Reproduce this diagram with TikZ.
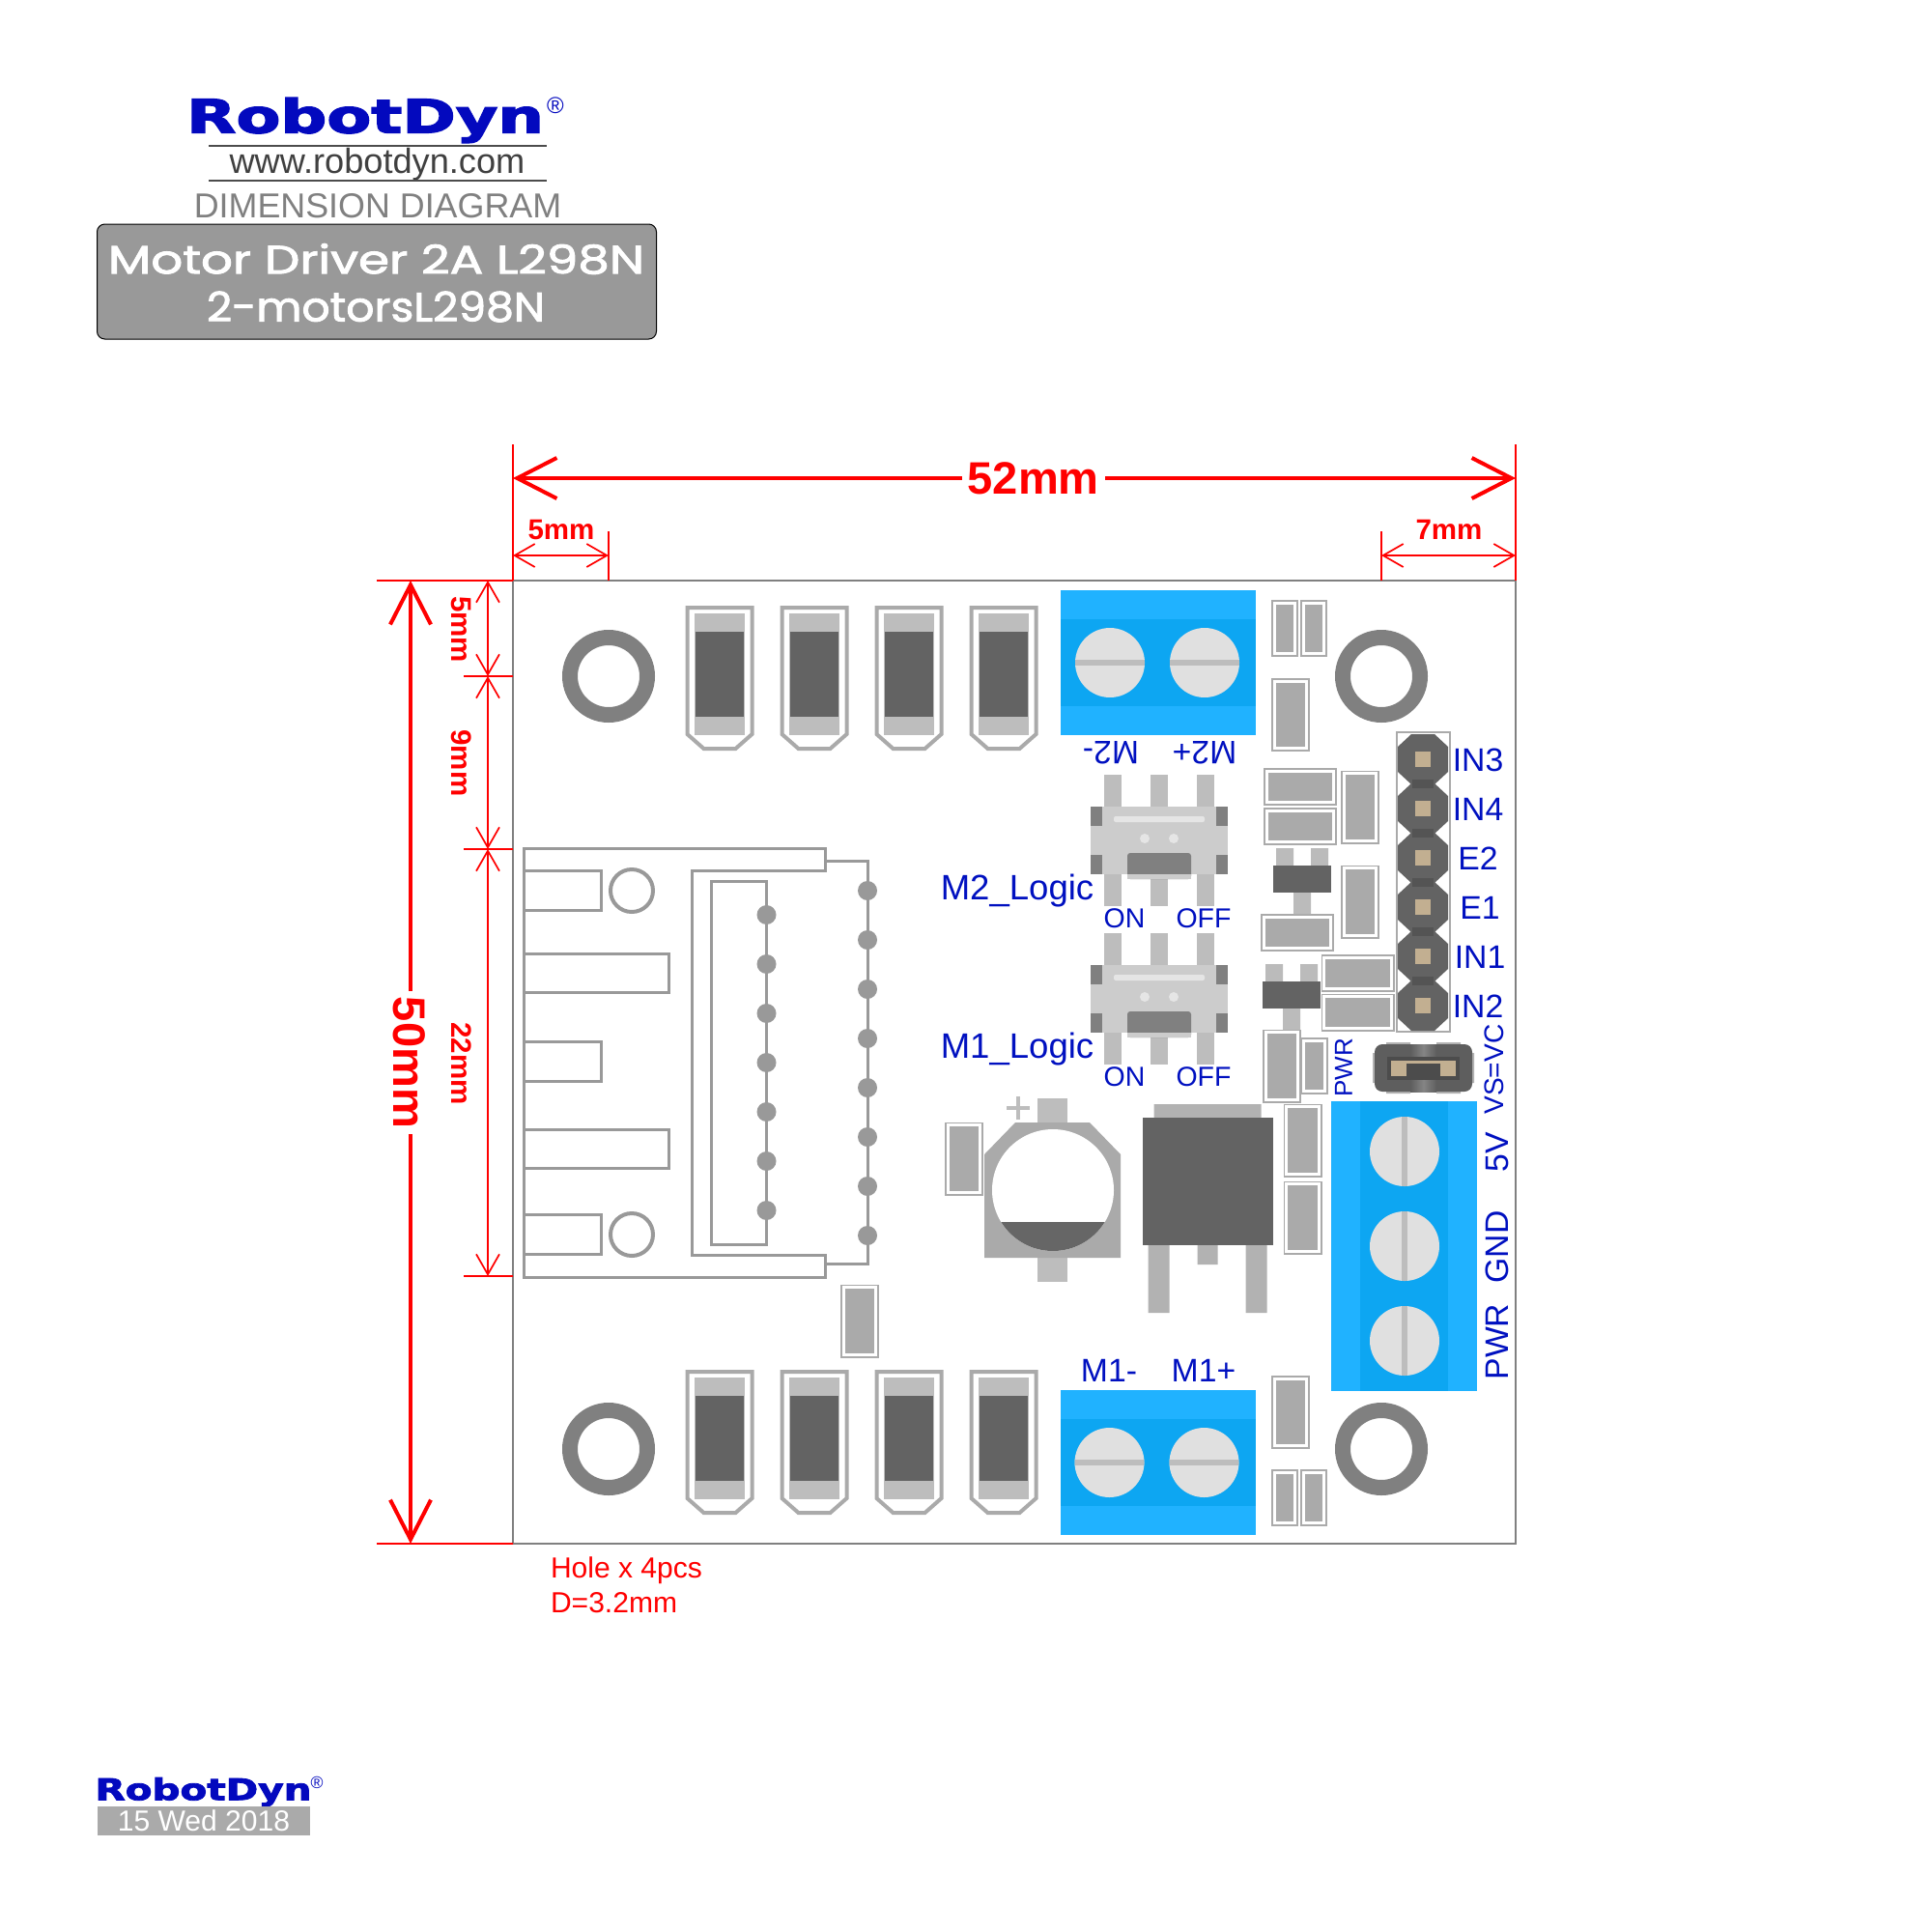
\documentclass[tikz,border=0pt]{standalone}
\usepackage{fontspec}
\usepackage{graphicx}
\setmainfont{Liberation Sans}
\newfontfamily\logofont[FakeBold=2.5]{DejaVu Sans Bold}
\newfontfamily\titlefont[FakeBold=2]{Poppins}
\usetikzlibrary{arrows.meta}
\definecolor{logoblue}{HTML}{0309BE}
\definecolor{lblblue}{HTML}{0010C0}
\definecolor{termlight}{HTML}{20B2FF}
\definecolor{termdark}{HTML}{0DA6F2}
\definecolor{smdgray}{HTML}{AAAAAA}
\definecolor{leadgray}{HTML}{BDBDBD}
\definecolor{bodydark}{HTML}{636363}
\definecolor{wiregray}{HTML}{999999}
\definecolor{tan}{HTML}{C2AF91}
\begin{document}
\begin{tikzpicture}[
  every node/.style={inner sep=0pt, outer sep=0pt},
  board/.style={draw=black!50, line width=.2mm, anchor=north west},
  lbl/.style={text=lblblue, font=\fontsize{9.6}{11}\selectfont},
  lblbig/.style={text=lblblue, font=\fontsize{10.4}{12}\selectfont},
  lblsm/.style={text=lblblue, font=\fontsize{8.1}{10}\selectfont},
  dimbig/.style={red, line width=.4mm, {Straight Barb[length=4.1mm,width=4.2mm]}-{Straight Barb[length=4.1mm,width=4.2mm]}},
  dimsm/.style={red, line width=.17mm, {Straight Barb[length=2.1mm,width=2.4mm]}-{Straight Barb[length=2.1mm,width=2.4mm]}},
  dimext/.style={red, line width=.17mm},
  dimtxt/.style={text=red, font=\bfseries\fontsize{8.4}{10}\selectfont},
  dimtxtbig/.style={text=red, fill=white, inner xsep=.6mm, font=\bfseries\fontsize{13.4}{15}\selectfont},
  smd/.style={draw=smdgray, fill=smdgray, line width=.16mm, double=white, double distance=.3mm},
  rtall/.style={smd, minimum width=.338cm, minimum height=.698cm},
  rwide/.style={smd, minimum width=.698cm, minimum height=.328cm},
  rsmall/.style={smd, minimum width=.218cm, minimum height=.528cm},
  wire/.style={draw=wiregray, line width=.3mm},
  diode/.pic={
    \draw[smdgray, line width=.4mm] (-.335,.73) -- (.335,.73) -- (.335,-.58) -- (.165,-.73) -- (-.165,-.73) -- (-.335,-.58) -- cycle;
    \fill[leadgray] (-.26,.67) rectangle (.26,-.59);
    \fill[bodydark] (-.25,.48) rectangle (.25,-.40);
  },
  screw/.pic={
    \fill[black!12] (0,0) circle (.36);
    \begin{scope}
      \clip (0,0) circle (.36);
      \fill[leadgray] (-.4,-.03) rectangle (.4,.03);
    \end{scope}
  },
  terminal/.pic={
    \fill[termlight] (-1.01,.75) rectangle (1.01,-.75);
    \fill[termdark] (-1.01,.45) rectangle (1.01,-.45);
    \pic at (-.5,0) {screw};
    \pic at (.48,0) {screw};
  },
  switch/.pic={
    \foreach \x in {-.48,0,.48} {\fill[leadgray] (\x-.09,.68) rectangle (\x+.09,-.68);}
    \fill[black!20] (-.71,.35) rectangle (.71,-.35);
    \foreach \x in {-.71,.59} {
      \fill[black!50] (\x,.35) rectangle (\x+.12,.15);
      \fill[black!50] (\x,-.15) rectangle (\x+.12,-.35);
    }
    \fill[black!10, rounded corners=.2mm] (-.47,.25) rectangle (.47,.19);
    \fill[black!10] (-.15,.02) circle (.05) (.15,.02) circle (.05);
    \fill[black!50, rounded corners=.3mm] (-.33,-.13) rectangle (.33,-.40);
    \fill[black!20] (-.33,-.35) rectangle (.33,-.40);
  }
]
\useasboundingbox (0,0) rectangle (20,-20);
% logo block
\node[anchor=north west, text=logoblue] (logo) at (1.93,-1.01) {\resizebox*{3.70cm}{.47cm}{\logofont RobotDyn}};
\node[text=logoblue, font=\fontsize{6.8}{8}\selectfont] (logoreg) at (5.75,-1.09) {\textregistered};
\node[text=black!75, font=\fontsize{10.3}{12}\selectfont] (site) at (3.905,-1.70) {www.robotdyn.com};
\draw[black!70, line width=.2mm] (2.16,-1.51) -- (5.66,-1.51) (2.16,-1.87) -- (5.66,-1.87);
\node[text=black!50, font=\fontsize{10.2}{12}\selectfont] (kind) at (3.91,-2.13) {DIMENSION DIAGRAM};
\node[draw=black, fill=wiregray, line width=.1mm, rounded corners=.8mm, minimum width=5.79cm, minimum height=1.19cm, anchor=north west] (title) at (1.005,-2.32) {};
\node[text=white, anchor=center] (title1) at (3.895,-2.68) {\resizebox*{5.55cm}{.32cm}{\titlefont Motor Driver 2A L298N}};
\node[text=white, anchor=center] (title2) at (3.89,-3.175) {\resizebox*{3.5cm}{.32cm}{\titlefont 2-motorsL298N}};
% board
\node[board, minimum width=10.38cm, minimum height=9.97cm] (board) at (5.31,-6.01) {};
\foreach \x/\y in {6.3/-7,14.3/-7,6.3/-15,14.3/-15} {\draw[black!50, line width=.16cm] (\x,\y) circle (.4);}
\foreach \x in {7.45,8.43,9.41,10.39} {
  \pic at (\x,-7.02) {diode};
  \pic at (\x,-14.93) {diode};
}
\pic at (11.99,-6.86) {terminal};
\pic at (11.985,-15.14) {terminal};
\node[lbl, rotate=180] (m2minus) at (11.5,-7.795) {M2-};
\node[lbl, rotate=180] (m2plus) at (12.47,-7.795) {M2+};
\node[lbl] (m1minus) at (11.48,-14.19) {M1-};
\node[lbl] (m1plus) at (12.46,-14.19) {M1+};
\fill[termlight] (13.78,-11.4) rectangle (15.29,-14.4);
\fill[termdark] (14.08,-11.4) rectangle (14.99,-14.4);
\foreach \y in {-11.92,-12.9,-13.88} {\pic[rotate=90] at (14.54,\y) {screw};}
\node[lbl, rotate=90] (l5v) at (15.50,-11.93) {5V};
\node[lbl, rotate=90] (lgnd) at (15.50,-12.91) {GND};
\node[lbl, rotate=90] (lpwr) at (15.50,-13.89) {PWR};
\node[text=lblblue, font=\fontsize{8}{10}\selectfont, rotate=90] (lvs) at (15.47,-11.07) {VS=VC};
\node[text=lblblue, font=\fontsize{7.4}{9}\selectfont, rotate=90] (lled) at (13.91,-11.05) {PWR};
% switches
\pic at (12,-8.7) {switch};
\pic at (12,-10.34) {switch};
\node[lblbig, anchor=base] (m2logic) at (10.53,-9.31) {M2\_Logic};
\node[lblbig, anchor=base] (m1logic) at (10.53,-10.95) {M1\_Logic};
\node[lblsm] (on2) at (11.64,-9.51) {ON};
\node[lblsm] (off2) at (12.46,-9.51) {OFF};
\node[lblsm] (on1) at (11.64,-11.15) {ON};
\node[lblsm] (off1) at (12.46,-11.15) {OFF};
% small parts
\node[rsmall] (r1) at (13.30,-6.505) {};
\node[rsmall] (r2) at (13.60,-6.505) {};
\node[rtall] (r3) at (13.36,-7.40) {};
\node[rwide] (r4) at (13.46,-8.145) {};
\node[rwide] (r5) at (13.46,-8.555) {};
\node[rtall] (r6) at (14.08,-8.355) {};
\node[rtall] (r7) at (14.08,-9.335) {};
\node[rwide] (r8) at (13.43,-9.655) {};
\node[rwide] (r9) at (14.055,-10.075) {};
\node[rwide] (r10) at (14.055,-10.48) {};
\node[rtall] (r11) at (13.27,-11.035) {};
\node[rsmall] (r12) at (13.605,-11.035) {};
\node[rtall] (r13) at (9.98,-11.995) {};
\node[rtall] (r14) at (13.485,-11.805) {};
\node[rtall] (r15) at (13.485,-12.605) {};
\node[rtall] (r16) at (13.36,-14.62) {};
\node[rsmall] (r17) at (13.30,-15.505) {};
\node[rsmall] (r18) at (13.60,-15.505) {};
\node[rtall] (r19) at (8.90,-13.675) {};
% transistors
\fill[smdgray!80] (13.21,-8.78) rectangle (13.39,-8.96) (13.57,-8.78) rectangle (13.75,-8.96) (13.39,-9.24) rectangle (13.57,-9.46);
\fill[bodydark] (13.18,-8.96) rectangle (13.78,-9.24);
\fill[smdgray!80] (13.10,-9.98) rectangle (13.28,-10.16) (13.46,-9.98) rectangle (13.64,-10.16) (13.28,-10.44) rectangle (13.46,-10.66);
\fill[bodydark] (13.07,-10.16) rectangle (13.67,-10.44);
% pin header
\draw[smdgray, line width=.17mm] (14.46,-7.58) rectangle (15.01,-10.68);
\foreach \y in {7.86,8.37,8.88,9.39,9.90,10.41} {
  \fill[bodydark] (14.61,-\y+.26) -- (14.85,-\y+.26) -- (14.99,-\y+.13) -- (14.99,-\y-.13) -- (14.85,-\y-.26) -- (14.61,-\y-.26) -- (14.47,-\y-.13) -- (14.47,-\y+.13) -- cycle;
  \fill[tan] (14.65,-\y+.08) rectangle (14.81,-\y-.08);
}
\foreach \y in {8.115,8.625,9.135,9.645,10.155} {\fill[black!67] (14.62,-\y+.045) rectangle (14.84,-\y-.045);}
\node[lbl] (in3) at (15.30,-7.87) {IN3};
\node[lbl] (in4) at (15.30,-8.38) {IN4};
\node[lbl] (e2) at (15.30,-8.89) {E2};
\node[lbl] (e1) at (15.32,-9.40) {E1};
\node[lbl] (in1) at (15.32,-9.91) {IN1};
\node[lbl] (in2) at (15.30,-10.42) {IN2};
% jumper
\fill[black!30] (14.35,-10.79) rectangle (14.60,-11.32) (14.87,-10.79) rectangle (15.12,-11.32) (14.21,-10.90) rectangle (15.26,-11.21);
\fill[black!63, rounded corners=.8mm] (14.23,-10.81) rectangle (15.24,-11.30);
\shade[left color=black!63, right color=black!63, middle color=black!48] (14.60,-10.81) rectangle (14.87,-11.30);
\fill[black!70] (14.36,-10.94) rectangle (15.11,-11.18);
\fill[tan] (14.40,-10.98) rectangle (15.07,-11.14);
\fill[black!70] (14.56,-11.01) rectangle (14.91,-11.18);
% capacitor
\fill[leadgray] (10.735,-11.37) rectangle (11.05,-13.27);
\fill[smdgray] (10.51,-11.62) -- (11.28,-11.62) -- (11.60,-11.95) -- (11.60,-13.02) -- (10.19,-13.02) -- (10.19,-11.95) -- cycle;
\fill[white] (10.90,-12.32) circle (.63);
\begin{scope}
  \clip (10.90,-12.32) circle (.63);
  \fill[black!60] (10.2,-12.65) rectangle (11.6,-13);
\end{scope}
\draw[leadgray, line width=.45mm] (10.42,-11.47) -- (10.66,-11.47) (10.54,-11.35) -- (10.54,-11.59);
% regulator
\fill[black!30] (11.945,-11.43) rectangle (13.055,-11.6) (11.885,-12.8) rectangle (12.105,-13.59) (12.895,-12.8) rectangle (13.115,-13.59) (12.395,-12.8) rectangle (12.605,-13.09);
\fill[bodydark] (11.825,-11.57) rectangle (13.175,-12.89);
% edge connector
\draw[wire] (5.42,-8.78) -- (8.54,-8.78) -- (8.54,-9.01) -- (7.16,-9.01) -- (7.16,-12.99) -- (8.54,-12.99) -- (8.54,-13.22) -- (5.42,-13.22) -- cycle;
\draw[wire] (5.42,-9.01) rectangle (6.22,-9.42) (5.42,-9.87) rectangle (6.92,-10.27) (5.42,-10.78) rectangle (6.22,-11.19) (5.42,-11.69) rectangle (6.92,-12.09) (5.42,-12.57) rectangle (6.22,-12.98);
\draw[wire] (8.54,-8.91) -- (8.98,-8.91) -- (8.98,-13.08) -- (8.54,-13.08);
\draw[wire] (7.36,-9.12) rectangle (7.93,-12.88);
\draw[wiregray, line width=.4mm] (6.54,-9.22) circle (.22) (6.54,-12.78) circle (.22);
\foreach \n in {0,...,7} {\fill[wiregray] (8.98,{-9.22-.51*\n}) circle (.1);}
\foreach \n in {0,...,6} {\fill[wiregray] (7.935,{-9.47-.51*\n}) circle (.1);}
% dimensions
\coordinate (top52) at (5.31,-4.95);
\coordinate (end52) at (15.69,-4.95);
\coordinate (top5) at (5.31,-5.75);
\coordinate (end5) at (6.30,-5.75);
\coordinate (top7) at (14.30,-5.75);
\coordinate (end7) at (15.69,-5.75);
\coordinate (top50) at (4.25,-6.01);
\coordinate (end50) at (4.25,-15.98);
\coordinate (v1) at (5.05,-6.01);
\coordinate (v2) at (5.05,-7.00);
\coordinate (v3) at (5.05,-8.79);
\coordinate (v4) at (5.05,-13.21);
\draw[dimext] (board.north west) -- ++(0,1.41);
\draw[dimext] (board.north east) -- ++(0,1.41);
\draw[dimext] (6.30,-6.01) -- (6.30,-5.50);
\draw[dimext] (14.30,-6.01) -- (14.30,-5.50);
\draw[dimext] (board.north west) -- (3.90,-6.01);
\draw[dimext] (board.south west) -- (3.90,-15.98);
\draw[dimext] (5.31,-7.00) -- (4.80,-7.00);
\draw[dimext] (5.31,-8.79) -- (4.80,-8.79);
\draw[dimext] (5.31,-13.21) -- (4.80,-13.21);
\draw[dimbig] (top52) -- node[dimtxtbig, pos=.519] (l52) {52mm} (end52);
\draw[dimbig] (top50) -- (end50);
\node[dimtxtbig, rotate=-90] (l50) at (4.24,-11.0) {50mm};
\draw[dimsm] (top5) -- (end5);
\draw[dimsm] (top7) -- (end7);
\draw[dimsm] (v1) -- (v2);
\draw[dimsm] (v2) -- (v3);
\draw[dimsm] (v3) -- (v4);
\node[dimtxt] (l5h) at (5.81,-5.485) {5mm};
\node[dimtxt] (l7h) at (15.0,-5.485) {7mm};
\node[dimtxt, rotate=-90] (l5v) at (4.78,-6.515) {5mm};
\node[dimtxt, rotate=-90] (l9v) at (4.78,-7.90) {9mm};
\node[dimtxt, rotate=-90] (l22v) at (4.78,-11.01) {22mm};
\node[text=red, font=\fontsize{8.55}{10}\selectfont, anchor=base west] (hole1) at (5.70,-16.33) {Hole x 4pcs};
\node[text=red, font=\fontsize{8.55}{10}\selectfont, anchor=base west] (hole2) at (5.70,-16.69) {D=3.2mm};
% date stamp
\node[anchor=north west, text=logoblue] (logosm) at (.985,-18.40) {\resizebox*{2.24cm}{.30cm}{\logofont RobotDyn}};
\node[text=logoblue, font=\fontsize{5}{6}\selectfont] (logosmreg) at (3.28,-18.45) {\textregistered};
\node[fill=smdgray, text=white, minimum width=2.2cm, minimum height=.3cm, anchor=north west, font=\fontsize{8.55}{10}\selectfont] (stamp) at (1.01,-18.70) {15 Wed 2018};
\end{tikzpicture}
\end{document}
